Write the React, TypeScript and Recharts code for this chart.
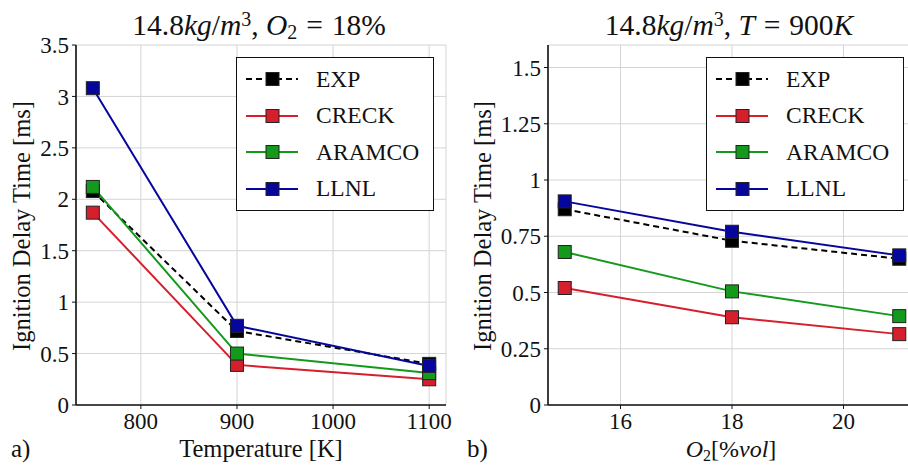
import React from "react";
import { LineChart, Line, XAxis, YAxis, CartesianGrid } from "recharts";

// panel a) temperature sweep
const temps = [750, 900, 1100];
const expA = [2.08, 0.72, 0.4];
const creckA = [1.87, 0.39, 0.25];
const aramcoA = [2.12, 0.5, 0.31];
const llnlA = [3.08, 0.77, 0.38];

// panel b) oxygen sweep
const o2 = [15, 18, 21];
const expB = [0.87, 0.73, 0.65];
const creckB = [0.52, 0.39, 0.315];
const aramcoB = [0.68, 0.505, 0.395];
const llnlB = [0.905, 0.77, 0.665];

const tempTicks = [800, 900, 1000, 1100];
const idtTicksA = [0, 0.5, 1, 1.5, 2, 2.5, 3, 3.5];
const o2Ticks = [16, 18, 20];
const idtTicksB = [0, 0.25, 0.5, 0.75, 1, 1.25, 1.5];

const FONT = "'Liberation Serif', 'Times New Roman', Times, serif";
const INK = "#111";

const series = [
  { key: "EXP", color: "#000000", dash: "6 4" },
  { key: "CRECK", color: "#d61f2c", dash: undefined },
  { key: "ARAMCO", color: "#139a1c", dash: undefined },
  { key: "LLNL", color: "#06069c", dash: undefined },
];

const rowsA = temps.map((t, i) => ({
  x: t,
  EXP: expA[i],
  CRECK: creckA[i],
  ARAMCO: aramcoA[i],
  LLNL: llnlA[i],
}));

const rowsB = o2.map((v, i) => ({
  x: v,
  EXP: expB[i],
  CRECK: creckB[i],
  ARAMCO: aramcoB[i],
  LLNL: llnlB[i],
}));

const squareDot = (color: string) => (props: any) => {
  const { cx, cy, index } = props;
  if (cx == null || cy == null) return <g key={index} />;
  return (
    <rect
      key={index}
      x={cx - 6.5}
      y={cy - 6.5}
      width={13}
      height={13}
      fill={color}
      stroke="#222"
      strokeWidth={1}
    />
  );
};

const makeTick = (dy: string) => (props: any) => {
  const { x, y, payload, textAnchor } = props;
  return (
    <text
      x={x}
      y={y}
      dy={dy}
      textAnchor={textAnchor}
      fill={INK}
      fontSize={23}
      style={{ fontFamily: FONT, fontSize: 23 }}
    >
      {payload.value}
    </text>
  );
};

function LegendBox({ left, top }: { left: number; top: number }) {
  return (
    <div
      style={{
        position: "absolute",
        left,
        top,
        width: 198,
        height: 154,
        border: `1.5px solid ${INK}`,
        background: "#fff",
        boxSizing: "border-box",
        paddingTop: 3,
        fontFamily: FONT,
      }}
    >
      {series.map((s) => (
        <div key={s.key} style={{ display: "flex", alignItems: "center", height: 36.5 }}>
          <svg width={70} height={20} style={{ marginLeft: 6 }}>
            <line
              x1={3}
              x2={55}
              y1={10}
              y2={10}
              stroke={s.color}
              strokeWidth={2}
              strokeDasharray={s.dash}
            />
            <rect x={23} y={3.5} width={13} height={13} fill={s.color} stroke="#222" strokeWidth={1} />
          </svg>
          <span style={{ fontSize: 23.5, color: INK, marginLeft: 3, fontFamily: FONT }}>{s.key}</span>
        </div>
      ))}
    </div>
  );
}

interface PanelProps {
  rows: any[];
  width: number;
  left: number;
  right: number;
  xDomain: [number, number];
  xTicks: number[];
  yDomain: [number, number];
  yTicks: number[];
}

function Panel({ rows, width, left, right, xDomain, xTicks, yDomain, yTicks }: PanelProps) {
  return (
    <LineChart
      width={width}
      height={466}
      data={rows}
      margin={{ top: 45, right, bottom: 29, left: left - 60 }}
      style={{ fontFamily: FONT }}
    >
      <CartesianGrid stroke="#d4d4d4" strokeWidth={1} />
      <XAxis
        type="number"
        dataKey="x"
        domain={xDomain}
        ticks={xTicks}
        allowDataOverflow
        height={32}
        tick={makeTick("0.71em")}
        tickSize={4}
        tickMargin={4}
        axisLine={{ stroke: INK, strokeWidth: 1.6 }}
        tickLine={{ stroke: INK }}
      />
      <XAxis
        xAxisId="top"
        orientation="top"
        type="number"
        domain={xDomain}
        height={0}
        tick={false}
        tickLine={false}
        axisLine={{ stroke: INK, strokeWidth: 1.6 }}
      />
      <YAxis
        type="number"
        domain={yDomain}
        ticks={yTicks}
        allowDataOverflow
        width={60}
        tick={makeTick("0.355em")}
        tickSize={4}
        tickMargin={3}
        axisLine={{ stroke: INK, strokeWidth: 1.6 }}
        tickLine={{ stroke: INK }}
      />
      <YAxis
        yAxisId="right"
        orientation="right"
        type="number"
        domain={yDomain}
        width={0}
        tick={false}
        tickLine={false}
        axisLine={{ stroke: INK, strokeWidth: 1.6 }}
      />
      {series.map((s) => (
        <Line
          key={s.key}
          type="linear"
          dataKey={s.key}
          stroke={s.color}
          strokeWidth={2}
          strokeDasharray={s.dash}
          dot={squareDot(s.color)}
          activeDot={false}
          isAnimationActive={false}
        />
      ))}
    </LineChart>
  );
}

const abs = (l: number, t: number, extra: React.CSSProperties = {}): React.CSSProperties => ({
  position: "absolute",
  left: l,
  top: t,
  fontFamily: FONT,
  color: INK,
  whiteSpace: "nowrap",
  lineHeight: 1,
  ...extra,
});

const sup: React.CSSProperties = { fontSize: 20, verticalAlign: "0.45em", lineHeight: 0 };
const sub: React.CSSProperties = { fontSize: 20, verticalAlign: "-0.2em", lineHeight: 0 };
const gap: React.CSSProperties = { margin: "0 0.3em" };

export default function App() {
  return (
    <div
      style={{
        position: "fixed",
        left: 0,
        top: 0,
        width: 908,
        height: 466,
        background: "#fff",
        overflow: "hidden",
        fontFamily: FONT,
      }}
    >
      <div style={{ position: "absolute", left: 0, top: 0 }}>
        <Panel
          rows={rowsA}
          width={460}
          left={76}
          right={14}
          xDomain={[732.5, 1117.5]}
          xTicks={tempTicks}
          yDomain={[0, 3.5]}
          yTicks={idtTicksA}
        />
      </div>
      <div style={{ position: "absolute", left: 460, top: 0, width: 448, height: 466, overflow: "hidden" }}>
        <Panel
          rows={rowsB}
          width={462}
          left={88}
          right={6}
          xDomain={[14.7, 21.3]}
          xTicks={o2Ticks}
          yDomain={[0, 1.6]}
          yTicks={idtTicksB}
        />
      </div>

      <LegendBox left={236} top={57} />
      <LegendBox left={706} top={57} />

      <div style={abs(259, 26, { fontSize: 29.5, transform: "translate(-50%, -50%)" })}>
        14.8<i>kg</i>/<i>m</i>
        <span style={sup}>3</span>,&nbsp;<i>O</i>
        <span style={sub}>2</span>
        <span style={gap}>=</span>18%
      </div>
      <div style={abs(729, 26, { fontSize: 29.5, transform: "translate(-50%, -50%)" })}>
        14.8<i>kg</i>/<i>m</i>
        <span style={sup}>3</span>,&nbsp;<i>T</i>
        <span style={gap}>=</span>900<i>K</i>
      </div>

      <div style={abs(22, 226, { fontSize: 24.5, transform: "translate(-50%, -50%) rotate(-90deg)" })}>
        Ignition Delay Time [ms]
      </div>
      <div style={abs(483, 226, { fontSize: 24.5, transform: "translate(-50%, -50%) rotate(-90deg)" })}>
        Ignition Delay Time [ms]
      </div>

      <div style={abs(261, 449, { fontSize: 24.5, transform: "translate(-50%, -50%)" })}>Temperature [K]</div>
      <div style={abs(731, 449, { fontSize: 24, transform: "translate(-50%, -50%)" })}>
        <i>O</i>
        <span style={{ fontSize: 16, verticalAlign: "-0.25em", lineHeight: 0 }}>2</span>[%<i>vol</i>]
      </div>

      <div style={abs(11, 436, { fontSize: 25 })}>a)</div>
      <div style={abs(467, 436, { fontSize: 25 })}>b)</div>
    </div>
  );
}
